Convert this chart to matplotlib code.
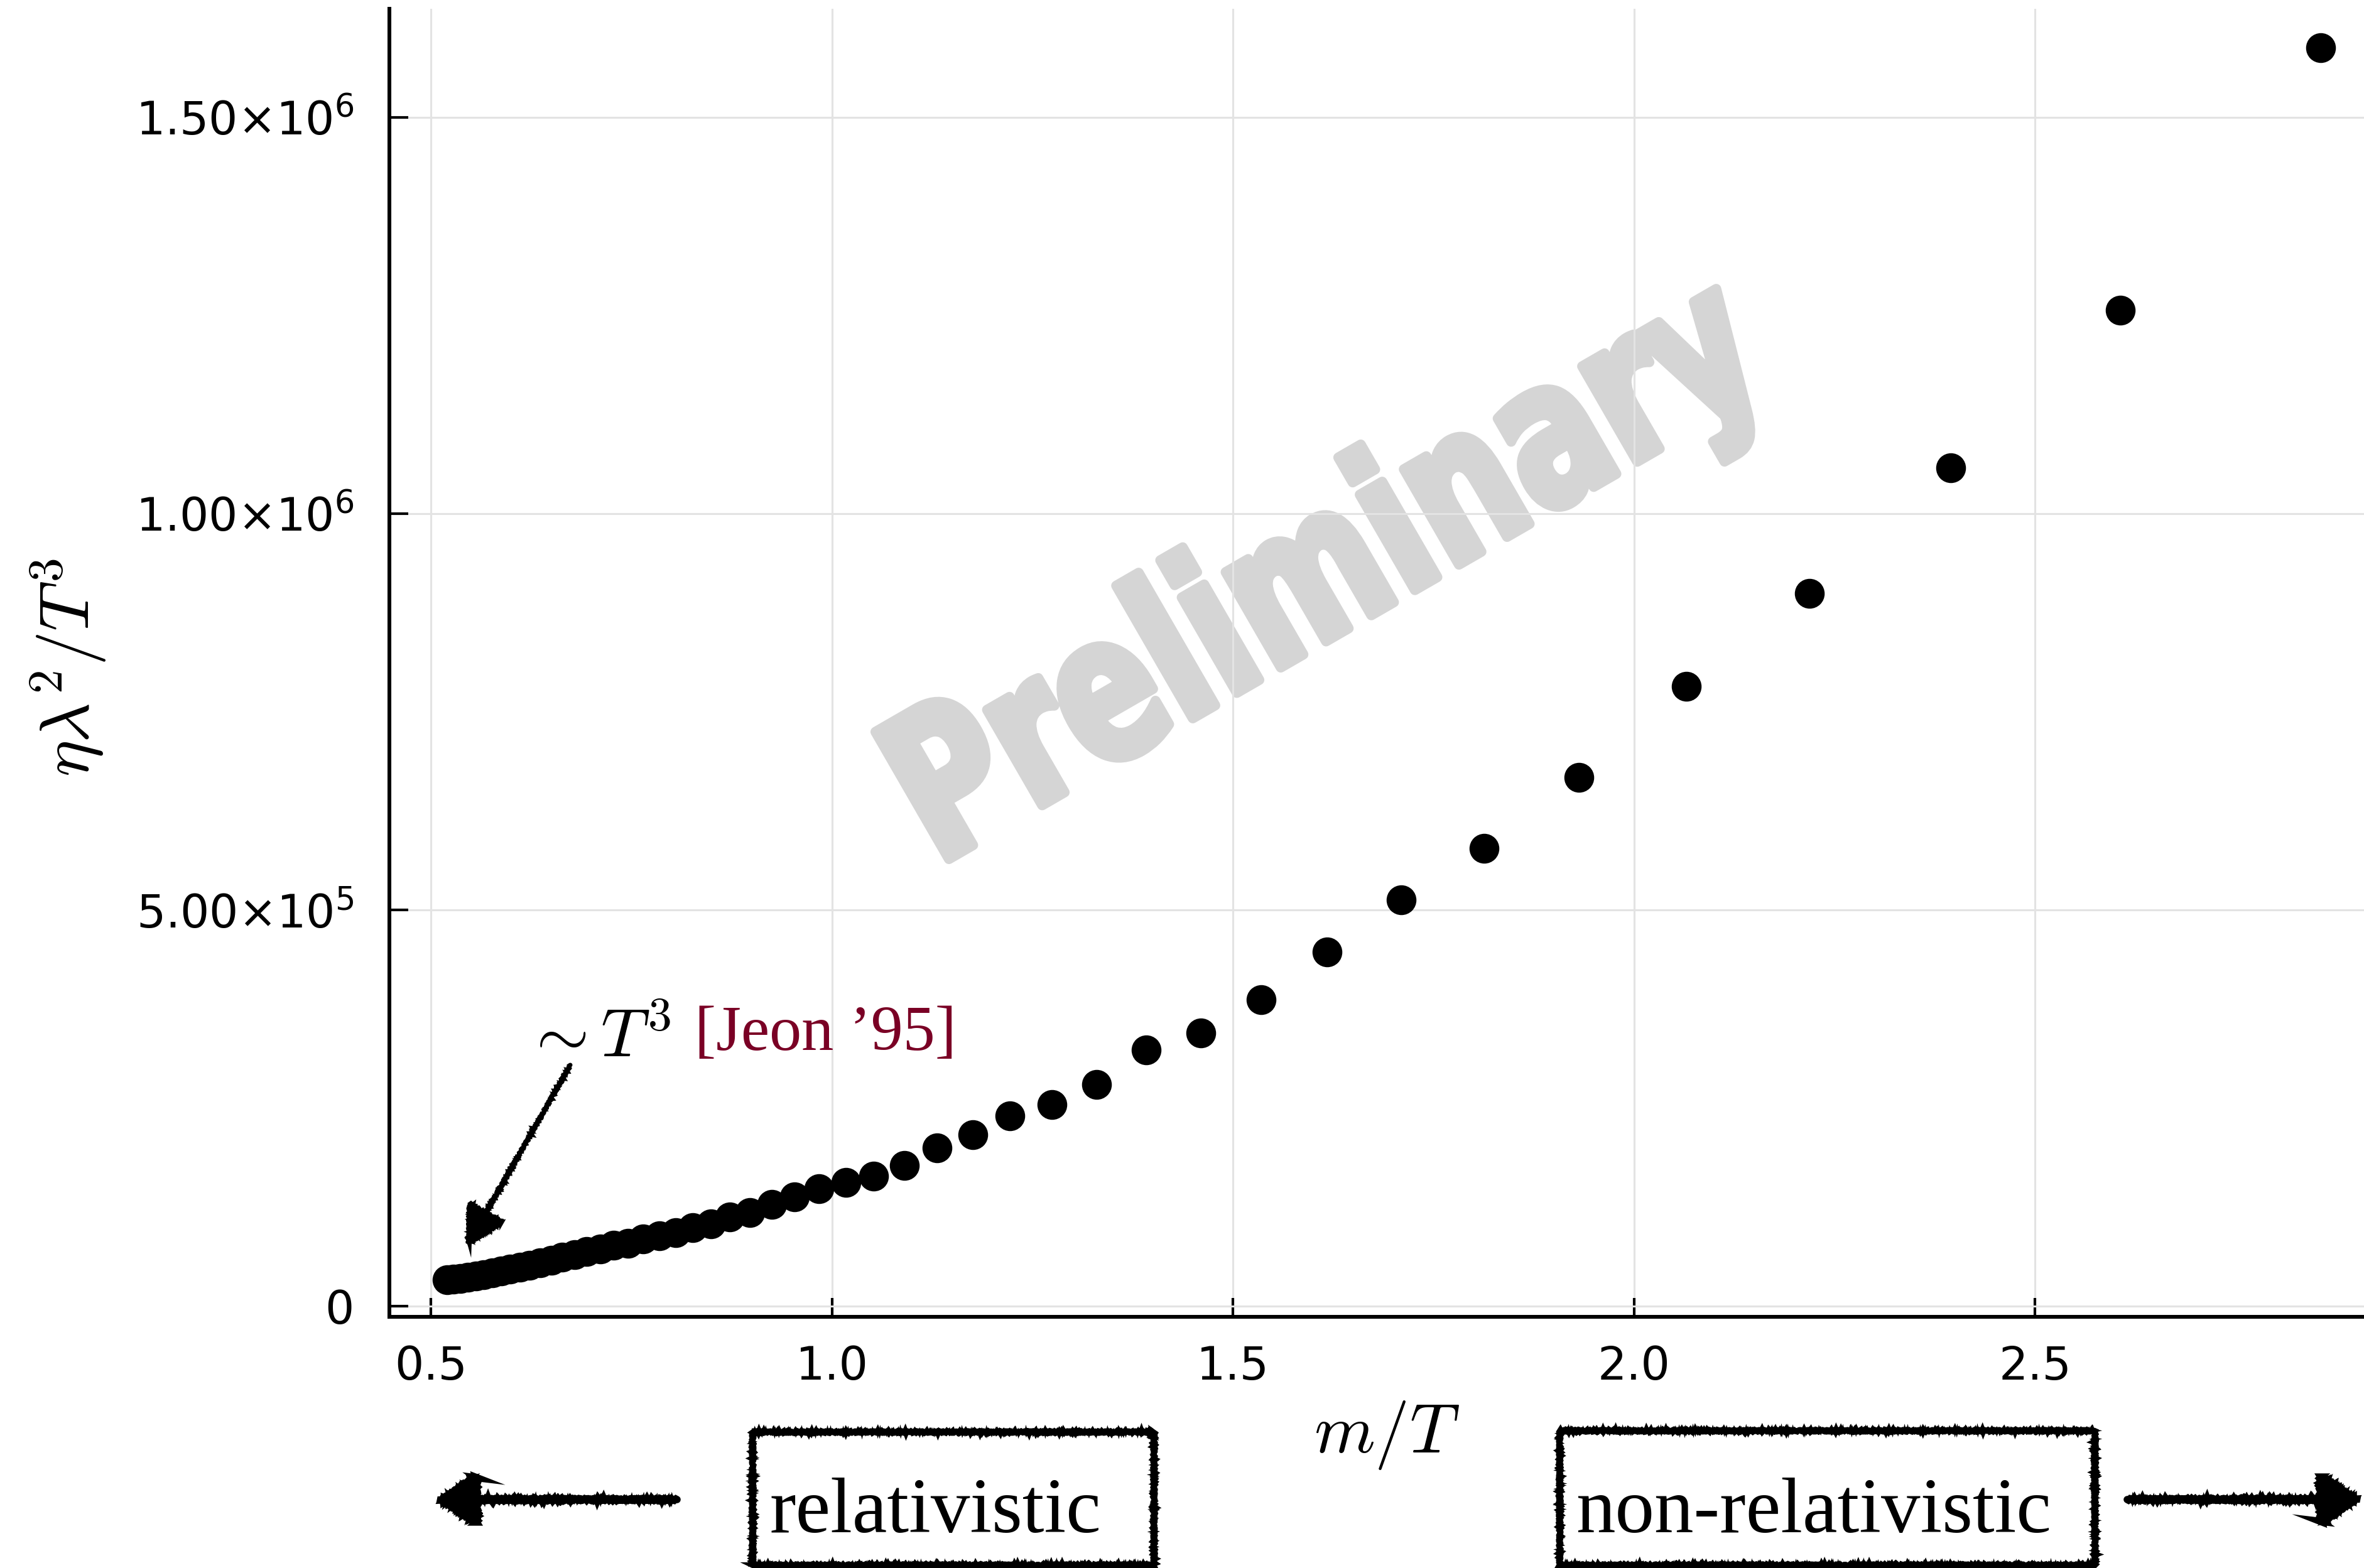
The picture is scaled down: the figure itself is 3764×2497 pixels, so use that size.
import matplotlib
matplotlib.use("Agg")
import matplotlib.pyplot as plt
from matplotlib.textpath import TextPath
from matplotlib.patches import PathPatch, FancyArrowPatch, Rectangle, ArrowStyle
from matplotlib.font_manager import FontProperties
from matplotlib.transforms import Affine2D
from matplotlib.ticker import FixedLocator, FixedFormatter

# ---------------- data ----------------
m_over_T = [2.856, 2.606, 2.395, 2.219, 2.065, 1.931, 1.813, 1.710, 1.617, 1.535,
            1.460, 1.392, 1.330, 1.274, 1.222, 1.1755, 1.131, 1.090, 1.052, 1.0175,
            0.984, 0.9535, 0.925, 0.898, 0.873, 0.849, 0.8265, 0.805, 0.785, 0.765,
            0.746, 0.728, 0.711, 0.694, 0.679, 0.664, 0.650, 0.636, 0.623, 0.611,
            0.599, 0.588, 0.577, 0.566, 0.556, 0.546, 0.537, 0.528, 0.520]
eta_lambda2_over_T3 = [1.588e6, 1.257e6, 1.058e6, 8.99e5, 7.82e5, 6.67e5, 5.78e5, 5.13e5, 4.47e5, 3.87e5,
                       3.45e5, 3.235e5, 2.797e5, 2.545e5, 2.403e5, 2.166e5, 1.994e5, 1.775e5, 1.643e5, 1.559e5,
                       1.48e5, 1.379e5, 1.28e5, 1.18e5, 1.123e5, 1.036e5, 9.9e4, 9.25e4, 8.87e4, 8.48e4,
                       7.92e4, 7.66e4, 7.19e4, 6.87e4, 6.50e4, 6.15e4, 5.80e4, 5.48e4, 5.18e4, 4.90e4,
                       4.65e4, 4.42e4, 4.20e4, 4.00e4, 3.82e4, 3.66e4, 3.52e4, 3.40e4, 3.30e4]

x_ticks = [0.5, 1.0, 1.5, 2.0, 2.5]
x_tick_labels = ["0.5", "1.0", "1.5", "2.0", "2.5"]
y_ticks = [0, 5e5, 1e6, 1.5e6]
y_tick_labels = ["0", r"$5.00{\times}10^{5}$", r"$1.00{\times}10^{6}$", r"$1.50{\times}10^{6}$"]

x_label = r"$m/T$"
y_label = r"$\eta\lambda^2/T^3$"
annot_math = r"$\sim T^3$"
annot_ref = "[Jeon \u201995]"
watermark = "Preliminary"
left_label = "relativistic"
right_label = "non-relativistic"

# ---------------- figure ----------------
W, H, DPI = 3764, 2497, 300
fig = plt.figure(figsize=(W / DPI, H / DPI), dpi=DPI)
fig.patch.set_facecolor("white")

def fx(px):
    return px / W

def fy(py):
    return 1 - py / H

ax_left, ax_right, ax_top, ax_bottom = 620, W, 14, 2097
ax = fig.add_axes([fx(ax_left), fy(ax_bottom), (ax_right - ax_left) / W, (ax_bottom - ax_top) / H])
ax.set_axisbelow(True)

# watermark (below grid), heavy condensed look via stroke + horizontal compression
wm_color = "#d5d5d5"
stroke_px = 16
fp = FontProperties(family="DejaVu Sans", weight="bold")
tp = TextPath((0, 0), watermark, size=1, prop=fp)
ext = tp.get_extents()
cap = TextPath((0, 0), "P", size=1, prop=fp).get_extents().y1
sx = (1528 - stroke_px) / (ext.x1 - ext.x0)
sy = (250 - stroke_px) / cap
wm_tr = (Affine2D().translate(-ext.x0, 0).scale(sx, sy)
         .translate(stroke_px / 2, stroke_px / 2).rotate_deg(30).translate(1508, H - 1379))
wm = PathPatch(tp, transform=wm_tr, facecolor=wm_color, edgecolor=wm_color,
               lw=stroke_px * 72 / DPI, joinstyle="round", zorder=0.2)
ax.add_patch(wm)

ax.plot(m_over_T, eta_lambda2_over_T3, "o", color="black", ms=11, mec="black", mew=0.4, zorder=3)

ax.set_xlim(0.4483, 2.910)
ax.set_ylim(-13470, 1.637e6)

ax.xaxis.set_major_locator(FixedLocator(x_ticks))
ax.xaxis.set_major_formatter(FixedFormatter(x_tick_labels))
ax.yaxis.set_major_locator(FixedLocator(y_ticks))
ax.yaxis.set_major_formatter(FixedFormatter(y_tick_labels))

ax.grid(True, color="#e3e3e3", lw=0.75)
for s in ["top", "right"]:
    ax.spines[s].set_visible(False)
for s in ["left", "bottom"]:
    ax.spines[s].set_linewidth(1.45)
    ax.spines[s].set_color("black")

ax.tick_params(axis="both", direction="in", length=7.2, width=1.0, labelsize=17.5, colors="black")
ax.tick_params(axis="y", pad=13.5)
ax.tick_params(axis="x", pad=10.5)

ax.set_xlabel(x_label, fontsize=26.5, math_fontfamily="cm")
ax.xaxis.set_label_coords((2208 - ax_left) / (ax_right - ax_left), (ax_bottom - 2228) / (ax_bottom - ax_top))
ax.set_ylabel(y_label, fontsize=26.5, math_fontfamily="cm")
ax.yaxis.set_label_coords((172 - ax_left) / (ax_right - ax_left), (ax_bottom - 1063) / (ax_bottom - ax_top))

# annotation text
fig.text(fx(834), fy(1683), annot_math, fontsize=26, math_fontfamily="cm", va="baseline", ha="left", color="black")
fig.text(fx(1106), fy(1672), annot_ref, fontsize=24.5, family="Liberation Serif", va="baseline", ha="left",
         color="#7a0025")

# hand-drawn looking arrows
def sketch_arrow(x0, y0, x1, y1, lw, hl, hw):
    style = ArrowStyle("-|>", head_length=hl, head_width=hw)
    for lwi, sk in [(lw, (1.4, 6, 3)), (lw * 0.5, (2.0, 3, 5))]:
        a = FancyArrowPatch((fx(x0), fy(y0)), (fx(x1), fy(y1)), transform=fig.transFigure,
                            arrowstyle=style, mutation_scale=1, lw=lwi, color="black",
                            shrinkA=0, shrinkB=0, joinstyle="miter")
        a.set_sketch_params(*sk)
        fig.add_artist(a)

sketch_arrow(908, 1696, 743, 1985, 1.7, 13, 7)
sketch_arrow(1078, 2388, 694, 2388, 2.8, 13, 8.6)
sketch_arrow(3387, 2388, 3760, 2388, 2.8, 13, 8.6)

# hand-drawn looking boxes
for (x0, y0, x1, y1) in [(1198, 2280, 1837, 2492), (2483, 2278, 3335, 2492)]:
    for lwi, sk in [(2.2, (1.4, 6, 3)), (1.1, (2.2, 3, 5))]:
        r = Rectangle((fx(x0), fy(y1)), (x1 - x0) / W, (y1 - y0) / H, transform=fig.transFigure,
                      fill=False, lw=lwi, ec="black")
        r.set_sketch_params(*sk)
        fig.add_artist(r)

fig.text(fx(1225), fy(2440), left_label, fontsize=30, family="Liberation Serif", va="baseline", ha="left")
fig.text(fx(2509), fy(2440), right_label, fontsize=30, family="Liberation Serif", va="baseline", ha="left")

fig.savefig("out.png", dpi=DPI, facecolor="white")
